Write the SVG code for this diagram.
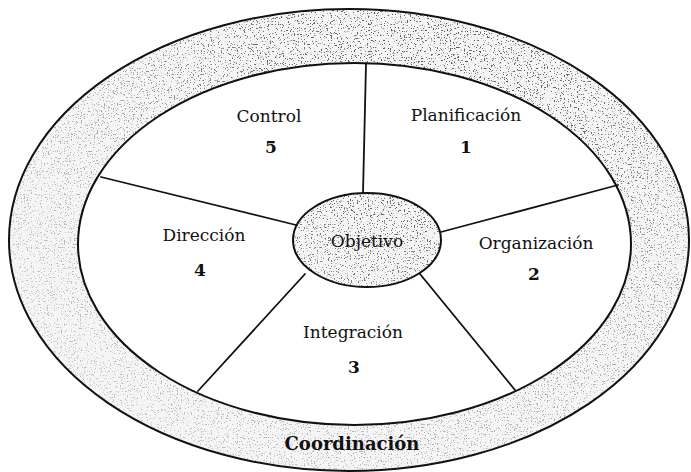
<svg xmlns="http://www.w3.org/2000/svg" width="691" height="472" viewBox="0 0 691 472">
  <style>
    .lbl { font-family: "DejaVu Serif", "Liberation Serif", serif; font-size: 17px; fill: #111; text-anchor: middle; }
    .num { font-family: "DejaVu Serif", "Liberation Serif", serif; font-size: 17px; font-weight: bold; fill: #111; text-anchor: middle; }
    .ring-title { font-family: "DejaVu Serif", "Liberation Serif", serif; font-size: 18px; font-weight: bold; fill: #111; text-anchor: middle; }
    .edge { fill: none; stroke: #111; stroke-width: 2; }
    .spoke { fill: none; stroke: #111; stroke-width: 1.8; stroke-linecap: round; }
    .base { fill: #f5f5f5; }
    .grain { fill: #fff; filter: url(#grain); }
  </style>
  <defs>
    <!-- sparse speckled stipple, clipped to the shape it is applied to -->
    <filter id="grain" x="0" y="0" width="1" height="1">
      <feTurbulence type="fractalNoise" baseFrequency="0.7" numOctaves="3" seed="11" result="noise"/>
      <feColorMatrix in="noise" type="matrix"
        values="0 0 0 0 0.1  0 0 0 0 0.1  0 0 0 0 0.1  12 0 0 0 -7.4" result="specks"/>
      <feComposite in="specks" in2="SourceGraphic" operator="in"/>
    </filter>
    <!-- stipple is heaviest across the upper right and thins out elsewhere -->
    <radialGradient id="fade" gradientUnits="userSpaceOnUse" cx="430" cy="70" r="470">
      <stop offset="0" stop-color="#fff" stop-opacity="1"/>
      <stop offset="0.35" stop-color="#fff" stop-opacity="0.9"/>
      <stop offset="0.7" stop-color="#fff" stop-opacity="0.5"/>
      <stop offset="1" stop-color="#fff" stop-opacity="0.3"/>
    </radialGradient>
    <mask id="fadeMask" maskUnits="userSpaceOnUse" x="0" y="0" width="691" height="472">
      <rect x="0" y="0" width="691" height="472" fill="url(#fade)"/>
    </mask>
  </defs>

  <!-- outer ring: Coordinación -->
  <g id="coordinacion">
    <path class="base" fill-rule="evenodd"
      d="M9,240 a340,231 0 1,0 680,0 a340,231 0 1,0 -680,0 Z M78,244 a276.5,181 0 1,0 553,0 a276.5,181 0 1,0 -553,0 Z"/>
    <g mask="url(#fadeMask)">
      <path class="grain" fill-rule="evenodd"
        d="M9,240 a340,231 0 1,0 680,0 a340,231 0 1,0 -680,0 Z M78,244 a276.5,181 0 1,0 553,0 a276.5,181 0 1,0 -553,0 Z"/>
    </g>
    <ellipse class="edge" cx="349" cy="240" rx="340" ry="231"/>
    <ellipse class="edge" cx="354.5" cy="244" rx="276.5" ry="181"/>
    <text class="ring-title" x="352" y="450">Coordinación</text>
  </g>

  <!-- spokes dividing the five stages -->
  <g id="spokes">
    <line class="spoke" x1="363" y1="193" x2="366" y2="64"/>
    <line class="spoke" x1="296" y1="225" x2="101" y2="177"/>
    <line class="spoke" x1="441" y1="232" x2="618" y2="185"/>
    <line class="spoke" x1="305" y1="274" x2="198" y2="391"/>
    <line class="spoke" x1="420" y1="274" x2="515" y2="390"/>
  </g>

  <g id="planificacion">
    <text class="lbl" x="466" y="121">Planificación</text>
    <text class="num" x="466" y="153">1</text>
  </g>
  <g id="organizacion">
    <text class="lbl" x="536" y="249">Organización</text>
    <text class="num" x="534" y="280">2</text>
  </g>
  <g id="integracion">
    <text class="lbl" x="353" y="338">Integración</text>
    <text class="num" x="354" y="373">3</text>
  </g>
  <g id="direccion">
    <text class="lbl" x="204" y="241">Dirección</text>
    <text class="num" x="200" y="276">4</text>
  </g>
  <g id="control">
    <text class="lbl" x="269" y="122">Control</text>
    <text class="num" x="271" y="153">5</text>
  </g>

  <!-- hub -->
  <g id="objetivo">
    <ellipse class="base" cx="367" cy="240" rx="74" ry="47"/>
    <g mask="url(#fadeMask)">
      <ellipse class="grain" cx="367" cy="240" rx="74" ry="47"/>
    </g>
    <ellipse class="edge" cx="367" cy="240" rx="74" ry="47"/>
    <text class="lbl" x="367" y="247">Objetivo</text>
  </g>
</svg>
